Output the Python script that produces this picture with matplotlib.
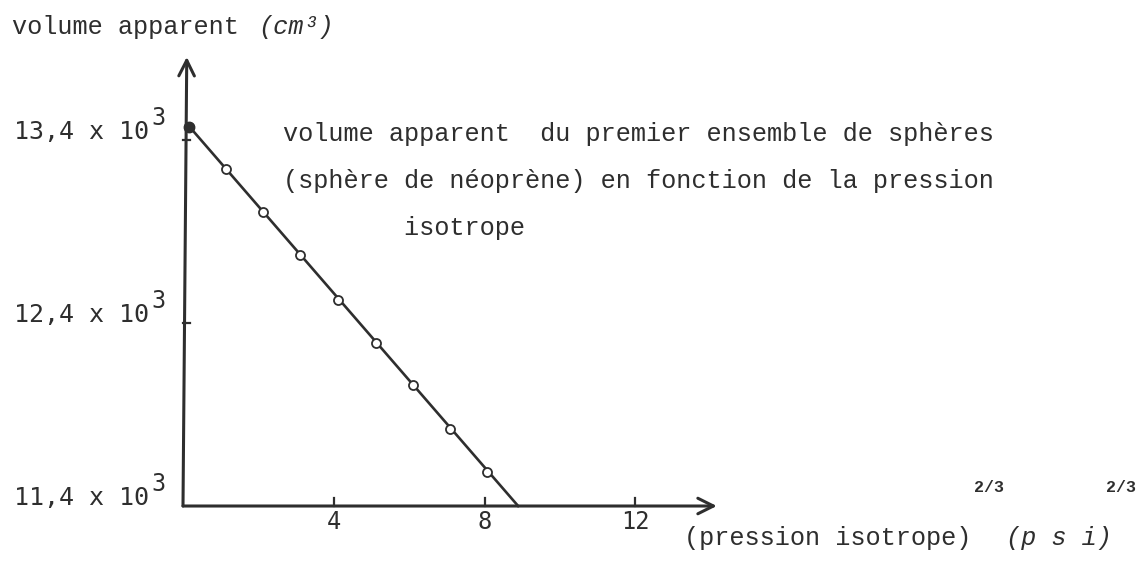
import matplotlib
matplotlib.use("Agg")
import matplotlib.pyplot as plt

# mesures : volume apparent (x 10^3 cm3) en fonction de (pression)^(2/3)
pression = [0.17, 1.14, 2.13, 3.10, 4.12, 5.13, 6.09, 7.08, 8.07]
volume = [13.473, 13.240, 13.005, 12.772, 12.528, 12.291, 12.060, 11.822, 11.586]

# droite tracee a la main a travers les points
droite_x = [0.17, 8.89]
droite_y = [13.473, 11.40]

xticks = [4, 8, 12]
yticks = [13.4, 12.4, 11.4]
ytick_labels = ["13,4 x 10", "12,4 x 10", "11,4 x 10"]

W, H = 1140, 561
ink = "#2e2e2e"
mono = "Liberation Mono"
digits = "DejaVu Sans Mono"

fig = plt.figure(figsize=(W / 100, H / 100), dpi=100)
ax = fig.add_axes([0, 0, 1, 1])
ax.set_xlim(-4.854, 25.385)
ax.set_ylim(11.0995, 14.165)
ax.axis("off")

x0, y0 = 0.0, 11.4
x_end, y_end = 14.16, 13.854

# axes avec fleches
ax.annotate("", xy=(x_end, y0), xytext=(x0, y0),
            arrowprops=dict(arrowstyle="->", lw=2.2, color=ink, mutation_scale=28,
                            shrinkA=0, shrinkB=0))
ax.annotate("", xy=(x0 + 0.1, y_end), xytext=(x0, y0),
            arrowprops=dict(arrowstyle="->", lw=2.2, color=ink, mutation_scale=28,
                            shrinkA=0, shrinkB=0))

# graduations
for t in xticks:
    ax.plot([t, t], [y0, y0 + 8 / 183], color=ink, lw=1.6)
    ax.annotate(str(t), (t, y0), xytext=(0, -16), textcoords="offset pixels",
                ha="center", va="center", fontsize=17, family=digits, color=ink)

for v, lab in zip(yticks, ytick_labels):
    if v != y0:
        ax.plot([x0, x0 + 7 / 37.7], [v, v], color=ink, lw=1.6)
    ax.annotate(lab, (x0, v), xytext=(-34, 8), textcoords="offset pixels",
                ha="right", va="center", fontsize=18, family=digits, color=ink)
    ax.annotate("3", (x0, v), xytext=(-32, 22), textcoords="offset pixels",
                ha="left", va="center", fontsize=17, family=digits, color=ink)

# courbe
ax.plot(droite_x, droite_y, color=ink, lw=1.9, zorder=3)
ax.plot(pression, volume, "o", mfc="white", mec=ink, ms=6.5, mew=1.3, zorder=4)
ax.plot(pression[:1], volume[:1], "o", color=ink, ms=7.5, zorder=5)


def txt(x, y, s, **kw):
    kw.setdefault("fontsize", 18.2)
    kw.setdefault("family", mono)
    kw.setdefault("color", ink)
    fig.text(x / W, 1 - y / H, s, ha="left", va="center", **kw)


# titres des axes
txt(12, 27, "volume apparent")
txt(258, 27, "(cm³)", style="italic")
txt(684, 538, "(pression isotrope)")
txt(974, 487, "2/3", fontsize=12, fontweight="bold")
txt(1006, 538, "(p s i)", style="italic")
txt(1106, 487, "2/3", fontsize=12, fontweight="bold")

# legende
txt(283, 134, "volume apparent  du premier ensemble de sphères")
txt(283, 181, "(sphère de néoprène) en fonction de la pression")
txt(283, 228, "        isotrope")

fig.savefig("out.png", dpi=100, facecolor="white")
